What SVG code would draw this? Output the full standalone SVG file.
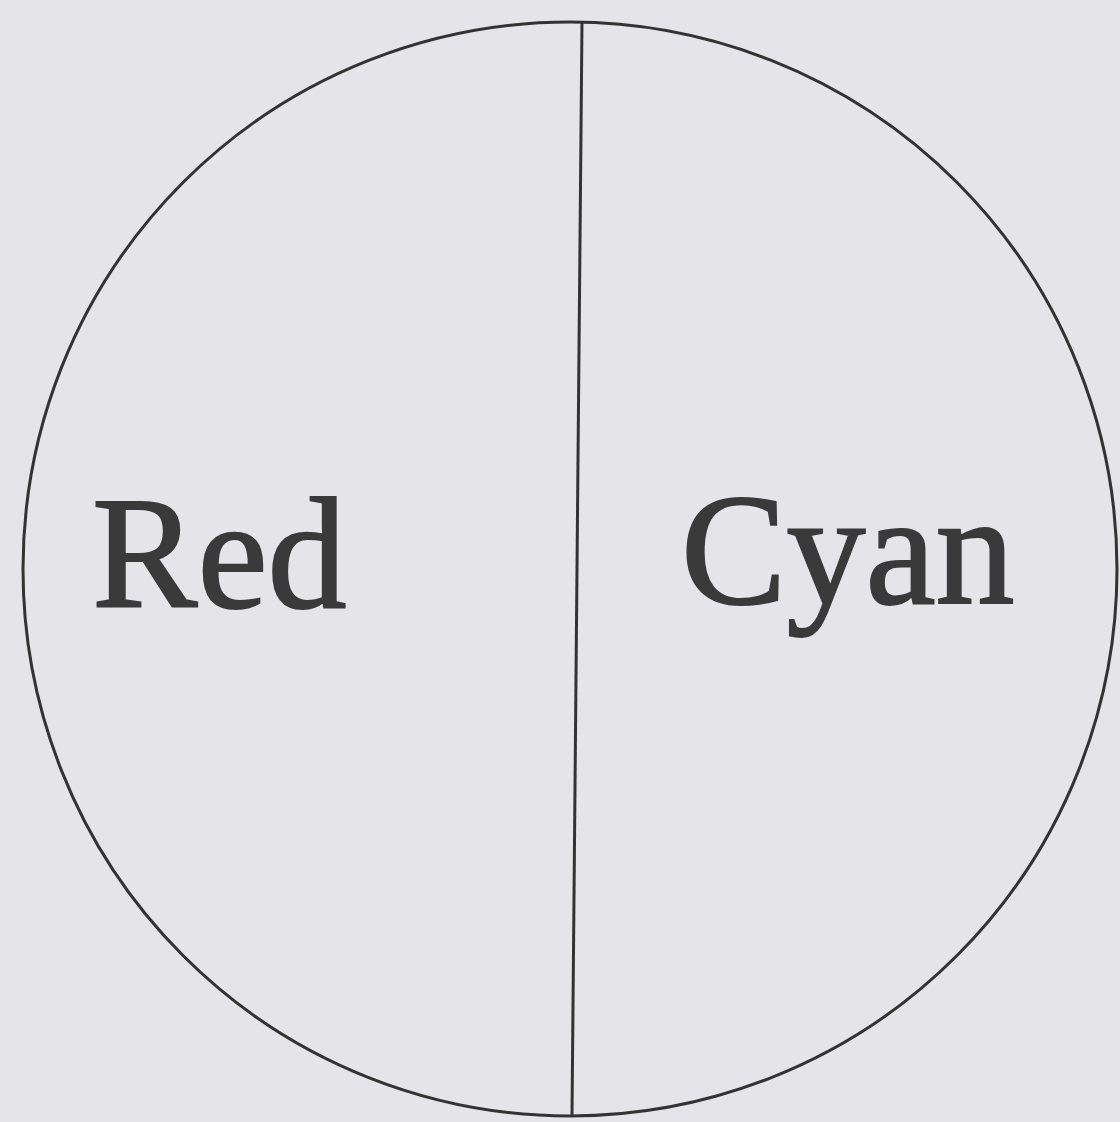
<svg xmlns="http://www.w3.org/2000/svg" width="1120" height="1122" viewBox="0 0 1120 1122">
<style>
.ln{fill:none;stroke:#333;stroke-width:3}
.lbl{font-family:"Liberation Serif","Times New Roman",serif;font-size:158px;fill:#3a3a3a;stroke:#3a3a3a;stroke-width:2}
</style>
<rect width="1120" height="1122" fill="#e5e5e9"/>
<g id="circle"><circle class="ln" cx="570" cy="569" r="547"/></g>
<g id="connectors"><line class="ln" x1="582" y1="22" x2="572" y2="1116"/></g>
<g id="red"><text class="lbl" x="92" y="607">Red</text></g>
<g id="cyan"><text class="lbl" x="681" y="603">Cyan</text></g>
</svg>
